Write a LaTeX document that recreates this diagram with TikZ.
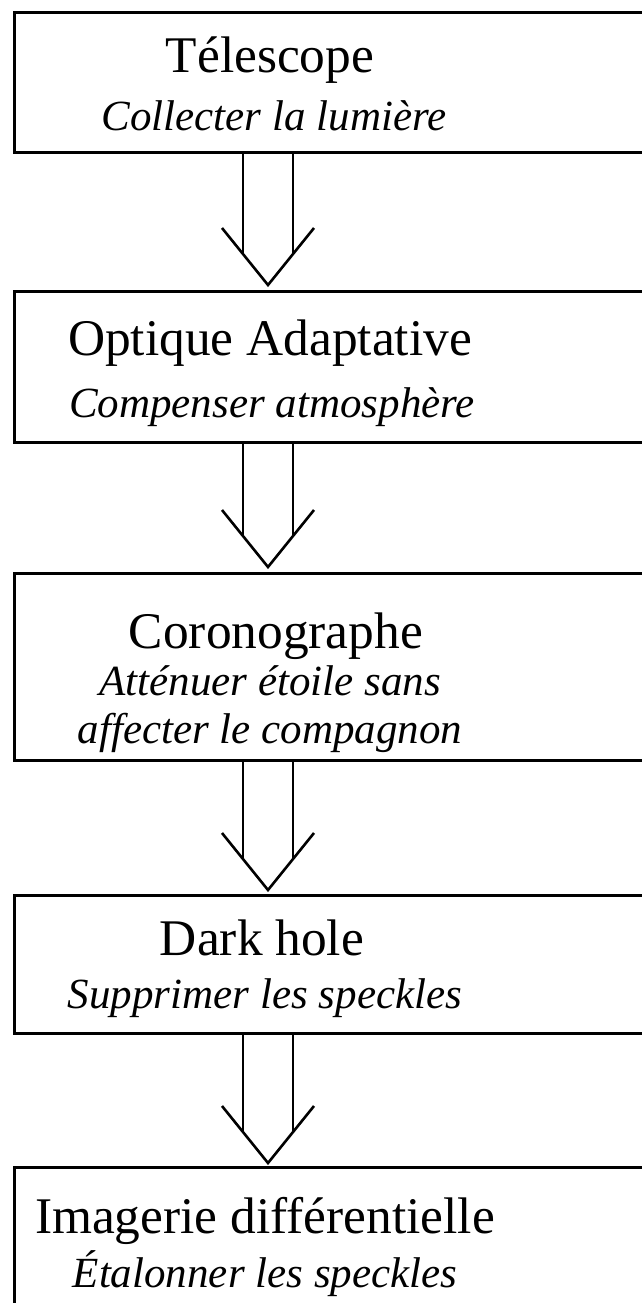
\documentclass[tikz,border=0pt]{standalone}
\usepackage{fontspec}
\setmainfont{Liberation Serif}
\begin{document}
\begin{tikzpicture}[x=0.5pt,y=-0.5pt,
  box/.style={draw=black, line width=1.5pt, rectangle, inner sep=0pt},
  ttl/.style={anchor=base, inner sep=0pt, font=\fontsize{25.7}{30}\selectfont},
  sub/.style={anchor=base, inner sep=0pt, font=\fontsize{21.5}{26}\selectfont\itshape},
  arr/.style={draw=black, line width=1.3pt, line join=miter}]
\useasboundingbox[fill=white] (0,0) rectangle (642,1303);
% boxes
\node[box, minimum width=353pt, minimum height=70pt] (b1) at (367,82) {};
\node[box, minimum width=353pt, minimum height=75.5pt] (b2) at (367,366.5) {};
\node[box, minimum width=353pt, minimum height=93.5pt] (b3) at (367,666.5) {};
\node[box, minimum width=353pt, minimum height=69pt] (b4) at (367,964) {};
\node[box, minimum width=353pt, minimum height=96.5pt] (b5) at (367,1263.5) {};
% texts
\node[ttl] (l1a) at (270,72) {Télescope};
\node[sub] (l1b) at (274,130) {Collecter la lumière};
\node[ttl] (l2a) at (270,355) {Optique Adaptative};
\node[sub] (l2b) at (272,417) {Compenser atmosphère};
\node[ttl] (l3a) at (276,648) {Coronographe};
\node[sub] (l3b) at (270,695) {Atténuer étoile sans};
\node[sub] (l3c) at (270,743) {affecter le compagnon};
\node[ttl] (l4a) at (262,955) {Dark hole};
\node[sub] (l4b) at (265,1008) {Supprimer les speckles};
\node[ttl] (l5a) at (265,1233) {Imagerie différentielle};
\node[sub] (l5b) at (265,1287) {Étalonner les speckles};
% arrow tips
\coordinate (t1) at (268,285);
\coordinate (t2) at (268,567);
\coordinate (t3) at (268,890);
\coordinate (t4) at (268,1163);
% arrows
\foreach \a/\t in {b1/t1,b2/t2,b3/t3,b4/t4}{
  \draw[arr] ([xshift=-12.5pt]\a.south -| \t) -- ([shift={(-25,-31)}]\t);
  \draw[arr] ([xshift=12.5pt]\a.south -| \t) -- ([shift={(25,-31)}]\t);
  \draw[arr] ([shift={(-46,-57)}]\t) -- (\t) -- ([shift={(46,-57)}]\t);
}
\end{tikzpicture}
\end{document}
